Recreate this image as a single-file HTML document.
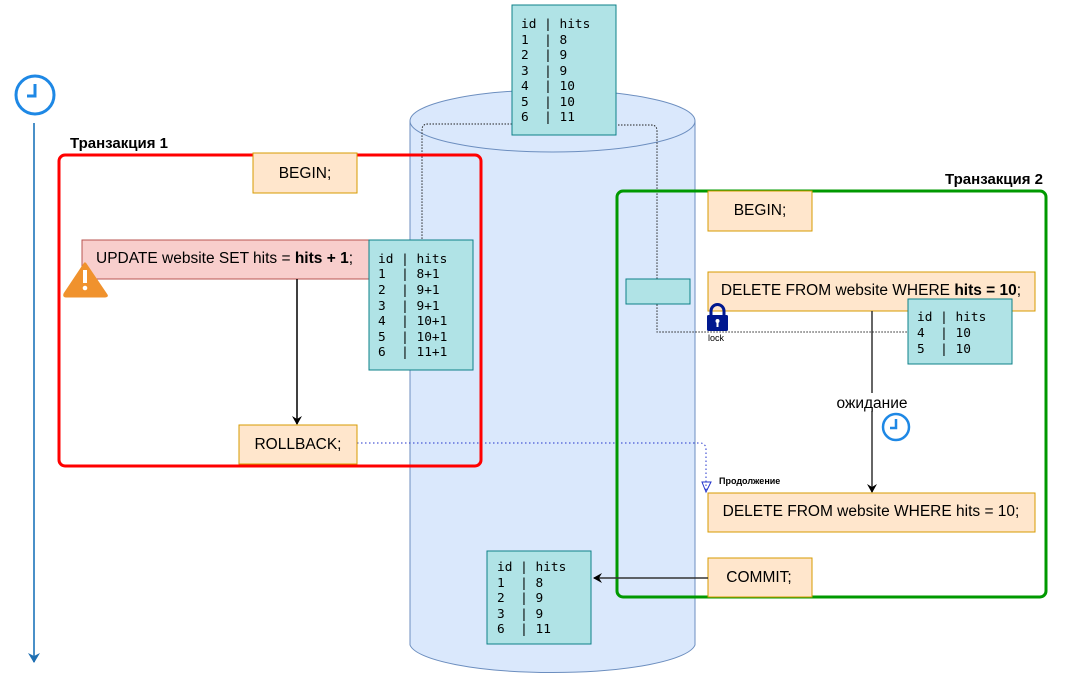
<!DOCTYPE html>
<html><head><meta charset="utf-8"><style>
html,body{margin:0;padding:0;background:#fff;}
svg{display:block;}
.s{font-family:"Liberation Sans",sans-serif;font-size:15.5px;fill:#000;}
.m{font-family:"DejaVu Sans Mono","Liberation Mono",monospace;font-size:12.8px;fill:#000;white-space:pre;}
</style></head><body>
<svg width="1068" height="688" viewBox="0 0 1068 688" xmlns="http://www.w3.org/2000/svg" xml:space="preserve">
<defs>
<marker id="ab" markerWidth="10" markerHeight="10" refX="8" refY="5" orient="auto" markerUnits="userSpaceOnUse"><path d="M0,0 L9,5 L0,10 L3,5 Z" fill="#000"/></marker>
<marker id="abl" markerWidth="12" markerHeight="12" refX="9" refY="6" orient="auto" markerUnits="userSpaceOnUse"><path d="M0,0 L10,6 L0,12 L3,6 Z" fill="#1f6fb2"/></marker>
</defs>
<circle cx="35" cy="95" r="19" fill="none" stroke="#1e88e5" stroke-width="3"/>
<path d="M35,84 V96 H27" fill="none" stroke="#1e88e5" stroke-width="3"/>
<line x1="34" y1="123" x2="34" y2="662" stroke="#4a90c8" stroke-width="2" marker-end="url(#abl)"/>
<path d="M410,121 V645 A143,30 0 0 0 695,645 V121" fill="#dae8fc" stroke="#6c8ebf" stroke-width="1"/>
<ellipse cx="552.5" cy="121" rx="142.5" ry="31" fill="#dae8fc" stroke="#6c8ebf"/>
<path d="M512,124 H428 Q422,124 422,130 V240" fill="none" stroke="#222" stroke-width="1" stroke-dasharray="1.5,1.5"/>
<path d="M618,125 H651 Q657,125 657,131 V332 Q657,332 663,332 H910" fill="none" stroke="#222" stroke-width="1" stroke-dasharray="1.5,1.5"/>
<path d="M357,443 H700 Q706,443 706,450 V490" fill="none" stroke="#2233cc" stroke-width="1" stroke-dasharray="1.5,2.5"/>
<path d="M706,492 L702,482 L711,482 Z" fill="none" stroke="#2233cc" stroke-width="1"/>
<text x="719" y="484" style="font-family:'Liberation Sans',sans-serif;font-size:9px;font-weight:bold">Продолжение</text>
<rect x="512" y="5" width="104" height="130" fill="#b0e3e6" stroke="#0e8088"/>
<text class="m"><tspan x="521" y="28">id | hits</tspan><tspan x="521" y="44">1  | 8</tspan><tspan x="521" y="59">2  | 9</tspan><tspan x="521" y="75">3  | 9</tspan><tspan x="521" y="90">4  | 10</tspan><tspan x="521" y="106">5  | 10</tspan><tspan x="521" y="121">6  | 11</tspan></text>
<text x="70" y="148" class="s" style="font-weight:bold;font-size:15px">Транзакция 1</text>
<rect x="59" y="155" width="422" height="311" rx="6" fill="none" stroke="#ff0000" stroke-width="3"/>
<rect x="253" y="153" width="104" height="40" fill="#ffe6cc" stroke="#d79b00"/>
<text x="305" y="178" class="s" text-anchor="middle">BEGIN;</text>
<rect x="82" y="240" width="287" height="39" fill="#f8cecc" stroke="#b85450"/>
<text x="96" y="263" class="s">UPDATE website SET hits = <tspan font-weight="bold">hits + 1</tspan>;</text>
<rect x="369" y="240" width="104" height="130" fill="#b0e3e6" stroke="#0e8088"/>
<text class="m"><tspan x="378" y="263">id | hits</tspan><tspan x="378" y="278">1  | 8+1</tspan><tspan x="378" y="294">2  | 9+1</tspan><tspan x="378" y="310">3  | 9+1</tspan><tspan x="378" y="325">4  | 10+1</tspan><tspan x="378" y="341">5  | 10+1</tspan><tspan x="378" y="356">6  | 11+1</tspan></text>
<path d="M85,264 L106,295 Q107,296 105,296 L66,296 Q64,296 65,294 Z" fill="#f0922d" stroke="#f0922d" stroke-linejoin="round" stroke-width="3"/>
<rect x="83" y="270" width="4" height="13" fill="#fff"/><circle cx="85" cy="288" r="2.3" fill="#fff"/>
<line x1="297" y1="279" x2="297" y2="424" stroke="#000" stroke-width="1.5" marker-end="url(#ab)"/>
<rect x="239" y="425" width="118" height="39" fill="#ffe6cc" stroke="#d79b00"/>
<text x="298" y="449" class="s" text-anchor="middle">ROLLBACK;</text>
<text x="1043" y="184" class="s" text-anchor="end" style="font-weight:bold;font-size:15px">Транзакция 2</text>
<rect x="617" y="191" width="429" height="406" rx="6" fill="none" stroke="#009900" stroke-width="3"/>
<rect x="626" y="279" width="64" height="25" fill="#b0e3e6" stroke="#0e8088"/>
<rect x="708" y="191" width="104" height="40" fill="#ffe6cc" stroke="#d79b00"/>
<text x="760" y="215" class="s" text-anchor="middle">BEGIN;</text>
<rect x="708" y="272" width="327" height="39" fill="#ffe6cc" stroke="#d79b00"/>
<text x="871" y="295" class="s" text-anchor="middle">DELETE FROM website WHERE <tspan font-weight="bold">hits = 10</tspan>;</text>
<line x1="872" y1="311" x2="872" y2="492" stroke="#333" stroke-width="1.5" marker-end="url(#ab)"/>
<rect x="836" y="393" width="72" height="18" fill="#fff"/>
<text x="872" y="408" class="s" text-anchor="middle">ожидание</text>
<circle cx="896" cy="427" r="13" fill="none" stroke="#1e88e5" stroke-width="2.5"/>
<path d="M896,419 V428 H890" fill="none" stroke="#1e88e5" stroke-width="2.5"/>
<rect x="908" y="299" width="104" height="65" fill="#b0e3e6" stroke="#0e8088"/>
<text class="m"><tspan x="917" y="321">id | hits</tspan><tspan x="917" y="337">4  | 10</tspan><tspan x="917" y="353">5  | 10</tspan></text>
<path d="M711,316 V311 A6.5,6.5 0 0 1 724,311 V316" fill="none" stroke="#00188f" stroke-width="3"/>
<rect x="707" y="315" width="21" height="16" rx="1.5" fill="#00188f"/>
<circle cx="717.5" cy="321" r="2" fill="#fff"/><rect x="716.5" y="321" width="2" height="6" fill="#fff"/>
<text x="708" y="341" style="font-family:'Liberation Sans',sans-serif;font-size:9px">lock</text>
<rect x="708" y="493" width="327" height="39" fill="#ffe6cc" stroke="#d79b00"/>
<text x="871" y="516" class="s" text-anchor="middle">DELETE FROM website WHERE hits = 10;</text>
<rect x="708" y="558" width="104" height="39" fill="#ffe6cc" stroke="#d79b00"/>
<text x="759" y="582" class="s" text-anchor="middle">COMMIT;</text>
<line x1="708" y1="578" x2="594" y2="578" stroke="#333" stroke-width="1.5" marker-end="url(#ab)"/>
<rect x="487" y="551" width="104" height="93" fill="#b0e3e6" stroke="#0e8088"/>
<text class="m"><tspan x="497" y="571">id | hits</tspan><tspan x="497" y="587">1  | 8</tspan><tspan x="497" y="602">2  | 9</tspan><tspan x="497" y="618">3  | 9</tspan><tspan x="497" y="633">6  | 11</tspan></text>
</svg>
</body></html>
